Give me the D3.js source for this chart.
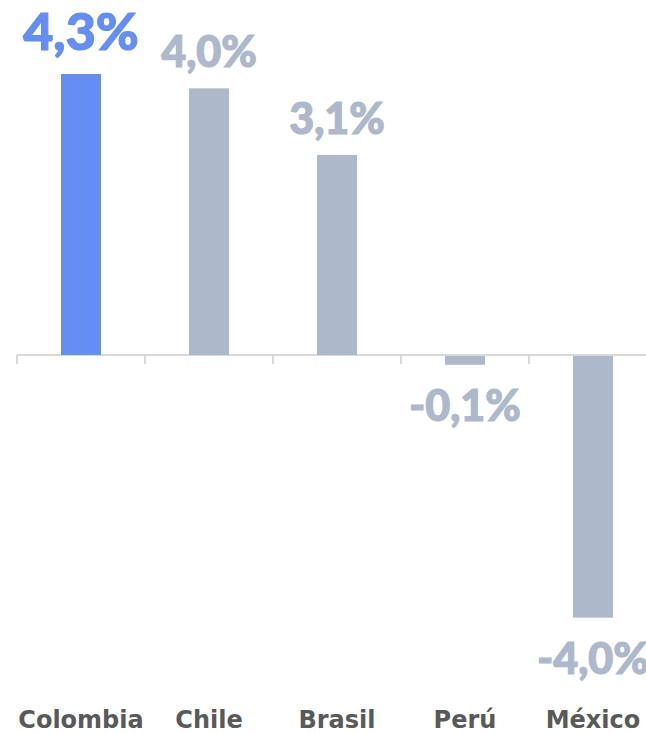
<!DOCTYPE html>
<html>
<head>
<meta charset="utf-8">
<script src="https://cdn.jsdelivr.net/npm/d3@7"></script>
<style>
  html, body { margin: 0; padding: 0; background: #ffffff; }
  svg { display: block; }
</style>
</head>
<body>
<div id="chart"></div>
<script>
const categories = ["Colombia", "Chile", "Brasil", "Perú", "México"];
const values = [4.3, 4.08, 3.06, -0.15, -4.02];
const valueLabels = ["4,3%", "4,0%", "3,1%", "-0,1%", "-4,0%"];
const highlight = ["Colombia"];

const W = 646, H = 734;
const BLUE = "#658ef2", GRAY = "#adb8ca";

const svg = d3.select("#chart").append("svg")
  .attr("width", W).attr("height", H);

const x = d3.scaleBand().domain(categories).range([17, 657]).padding(0);
const y = d3.scaleLinear().domain([-4.3, 4.3]).range([636, 74]);
const barW = x.bandwidth() * 0.3125;
const y0 = y(0);

// axis line
svg.append("line")
  .attr("x1", x.range()[0]).attr("x2", W + 20)
  .attr("y1", y0).attr("y2", y0)
  .attr("stroke", "#d9d9d9").attr("stroke-width", 2);

// boundary ticks
svg.selectAll("line.tick").data(categories).enter().append("line")
  .attr("class", "tick")
  .attr("x1", d => x(d)).attr("x2", d => x(d))
  .attr("y1", y0).attr("y2", y0 + 9)
  .attr("stroke", "#d9d9d9").attr("stroke-width", 2);

const data = categories.map((c, i) => ({ c, v: values[i], label: valueLabels[i] }));

// bars
svg.selectAll("rect.bar").data(data).enter().append("rect")
  .attr("class", "bar")
  .attr("x", d => x(d.c) + x.bandwidth() / 2 - barW / 2)
  .attr("width", barW)
  .attr("y", d => d.v >= 0 ? y(d.v) : y0 + 1)
  .attr("height", d => d.v >= 0 ? y0 - y(d.v) : y(d.v) - y0 - 1)
  .attr("fill", d => highlight.includes(d.c) ? BLUE : GRAY);

// value labels
svg.selectAll("text.val").data(data).enter().append("text")
  .attr("class", "val")
  .attr("x", d => x(d.c) + x.bandwidth() / 2)
  .attr("y", d => d.v >= 0 ? y(d.v) - (highlight.includes(d.c) ? 24 : 21) : y(d.v) + 56)
  .attr("text-anchor", "middle")
  .attr("font-family", "Lato, 'DejaVu Sans', sans-serif")
  .attr("font-weight", 900)
  .attr("font-size", d => highlight.includes(d.c) ? 52 : 43)
  .attr("fill", d => highlight.includes(d.c) ? BLUE : GRAY)
  .attr("stroke", d => highlight.includes(d.c) ? BLUE : GRAY)
  .attr("stroke-width", 1.2)
  .text(d => d.label);

// category labels
svg.selectAll("text.cat").data(categories).enter().append("text")
  .attr("class", "cat")
  .attr("x", d => x(d) + x.bandwidth() / 2)
  .attr("y", 728)
  .attr("text-anchor", "middle")
  .attr("font-family", "'DejaVu Sans', sans-serif")
  .attr("font-weight", 700)
  .attr("font-size", 24)
  .attr("fill", "#595959")
  .text(d => d);
</script>
</body>
</html>
